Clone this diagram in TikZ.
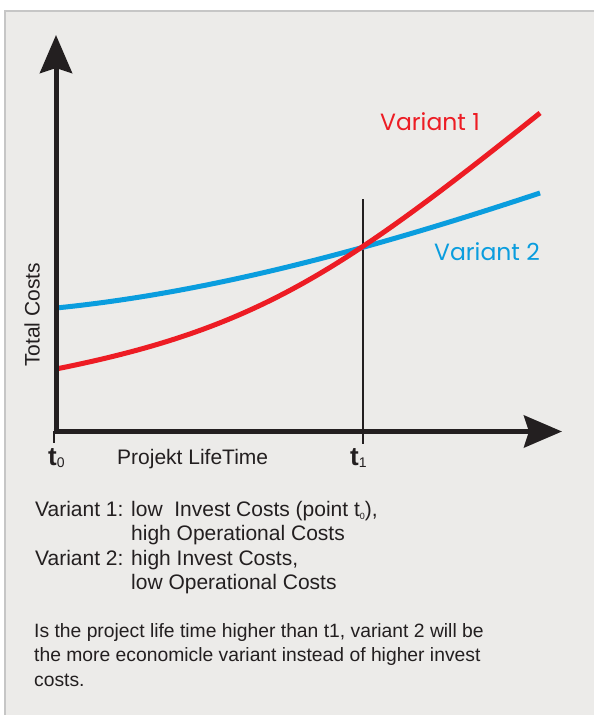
\documentclass[tikz,border=0pt]{standalone}
\usepackage{fontspec}
\setmainfont{Liberation Sans}
\newfontfamily\gothic{Poppins}
\usetikzlibrary{arrows.meta}
\definecolor{panelbg}{HTML}{ECEBE9}
\definecolor{panelrim}{HTML}{C6C6C6}
\definecolor{vred}{HTML}{ED1C24}
\definecolor{vblue}{HTML}{0A9DDE}
\definecolor{ink}{HTML}{231F20}
\begin{document}
\begin{tikzpicture}[x=1pt, y=-1pt,
  axis/.style={ink, line width=5pt, -{Stealth[width=32pt, length=38pt, inset=5pt]}},
  txt/.style={anchor=base west, inner sep=0pt, text=ink, font=\fontsize{19.3}{24}\selectfont},
  keytxt/.style={txt, font=\fontsize{21}{24}\selectfont},
  lbl/.style={inner sep=0pt, text=ink, font=\fontsize{21}{24}\selectfont},
  tlbl/.style={anchor=base west, inner sep=0pt, text=ink, font=\bfseries\fontsize{26}{26}\selectfont},
  vlbl/.style={anchor=base west, inner sep=0pt, font=\gothic\fontsize{23.5}{25}\selectfont}]
\useasboundingbox (0,0) rectangle (594,715);
\fill[white] (0,0) rectangle (594,715);
\fill[panelbg] (5,11) rectangle (594,715);
\draw[panelrim, line width=2pt] (5,715) -- (5,11) -- (594,11);
\coordinate (orig) at (56,431.5);
\coordinate (ytip) at (56,35);
\coordinate (xtip) at (562,431.5);
\coordinate (t1top) at (363,199);
\coordinate (t1bot) at (363,444);
\draw[ink, line width=2pt] (54.3,431) -- (54.3,443);
\draw[ink, line width=2pt] (t1top) -- (t1bot);
\draw[vblue, line width=5pt] (56,308) .. controls (216,292) and (380,246) .. (540,193);
\draw[vred, line width=5pt] (56,369) .. controls (256,329) and (340,273) .. (540,113);
\draw[axis] (53.5,431.5) -- (xtip);
\draw[axis] (56,434) -- (ytip);
\node[vlbl, text=vred] (var1) at (380,130) {Variant 1};
\node[vlbl, text=vblue] (var2) at (434,260) {Variant 2};
\node[lbl, rotate=90] (ycap) at (32,315) {Total Costs};
\node[lbl, anchor=base west] (xcap) at (117,464) {Projekt LifeTime};
\node[tlbl] (t0) at (48,465) {t\raisebox{-0.2ex}{\mdseries\fontsize{14}{14}\selectfont 0}};
\node[tlbl] (t1) at (350,465) {t\raisebox{-0.2ex}{\mdseries\fontsize{14}{14}\selectfont 1}};
\node[keytxt] (v1a) at (35,516) {Variant 1:};
\node[keytxt] (v1b) at (131,516) {low\ \ Invest Costs (point t\raisebox{-0.3ex}{\fontsize{9}{9}\selectfont 0}),};
\node[keytxt] (v1c) at (131,540.5) {high Operational Costs};
\node[keytxt] (v2a) at (35,565) {Variant 2:};
\node[keytxt] (v2b) at (131,565) {high Invest Costs,};
\node[keytxt] (v2c) at (131,589.5) {low Operational Costs};
\node[txt] (p1) at (34,637) {Is the project life time higher than t1, variant 2 will be};
\node[txt] (p2) at (34,661.5) {the more economicle variant instead of higher invest};
\node[txt] (p3) at (34,686) {costs.};
\end{tikzpicture}
\end{document}
